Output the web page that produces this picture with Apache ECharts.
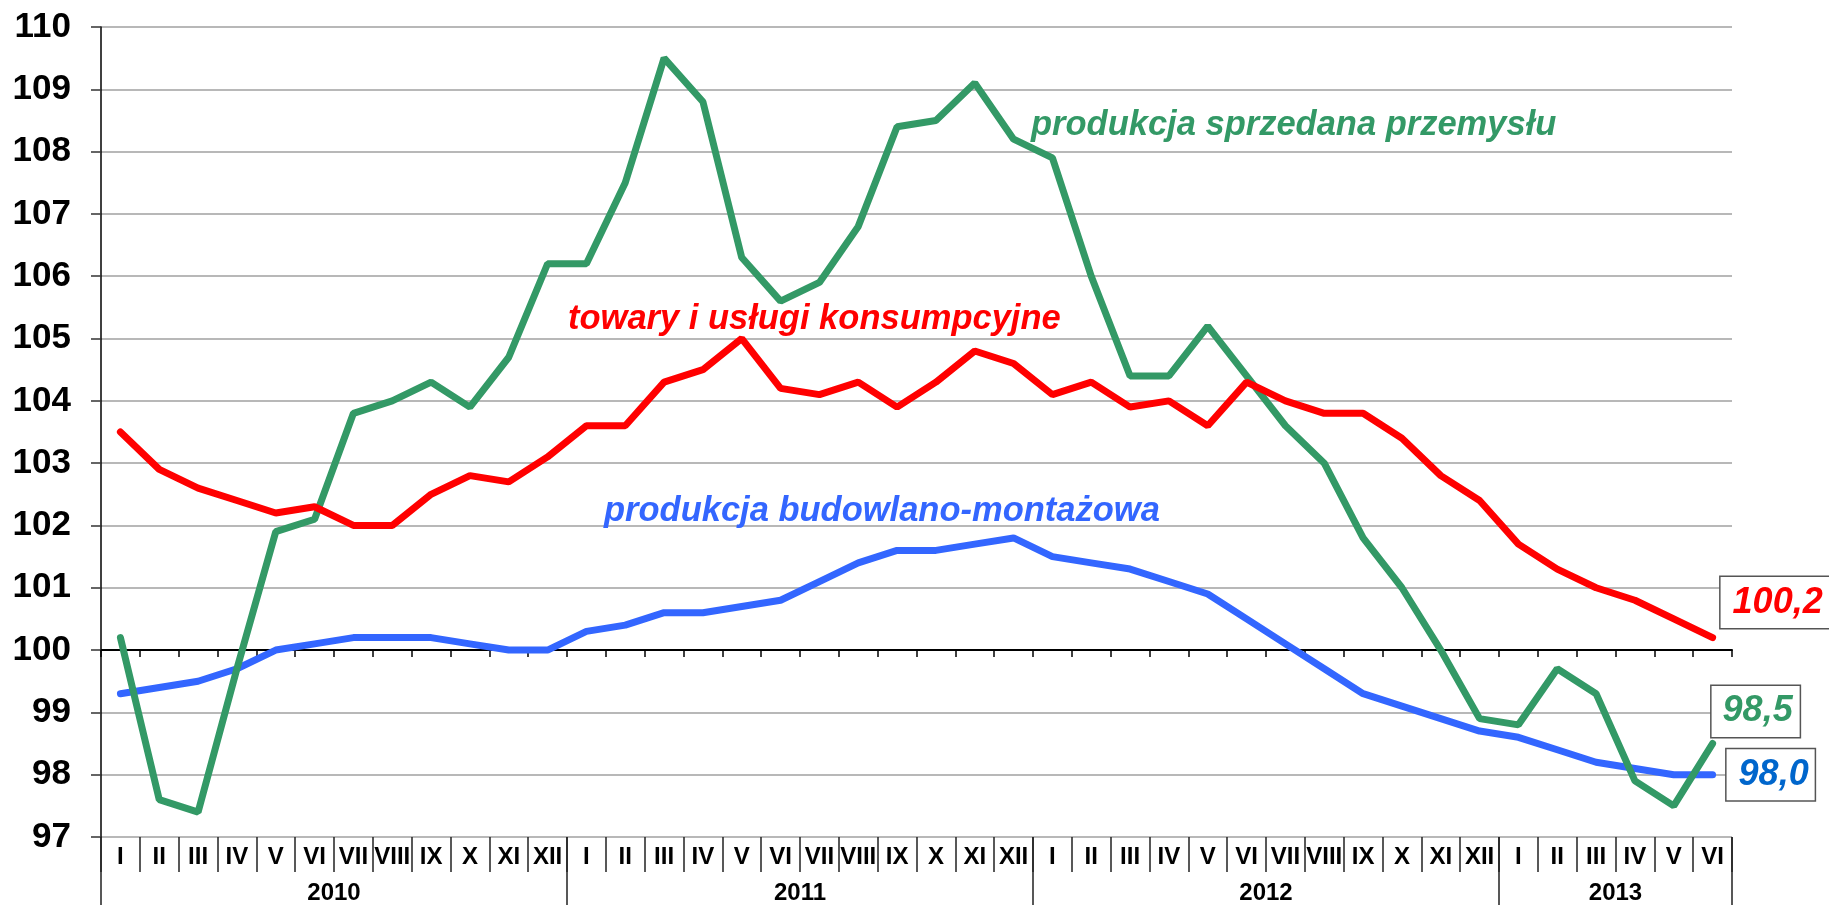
<!DOCTYPE html>
<html>
<head>
<meta charset="utf-8">
<script src="https://cdn.jsdelivr.net/npm/echarts@6/dist/echarts.min.js"></script>
<style>html,body{margin:0;padding:0;background:#fff}#c{width:1829px;height:905px}</style>
</head>
<body>
<div id="c"></div>
<script>
// ---- data ----
const monthNames = ['I','II','III','IV','V','VI','VII','VIII','IX','X','XI','XII'];
const years = ['2010','2011','2012','2013'];
const monthsPerYear = [12, 12, 12, 6];

const towaryUslugi = [
  103.5,102.9,102.6,102.4,102.2,102.3,102.0,102.0,102.5,102.8,102.7,103.1,
  103.6,103.6,104.3,104.5,105.0,104.2,104.1,104.3,103.9,104.3,104.8,104.6,
  104.1,104.3,103.9,104.0,103.6,104.3,104.0,103.8,103.8,103.4,102.8,102.4,
  101.7,101.3,101.0,100.8,100.5,100.2
];
const produkcjaPrzemyslu = [
  100.2,97.6,97.4,99.7,101.9,102.1,103.8,104.0,104.3,103.9,104.7,106.2,
  106.2,107.5,109.5,108.8,106.3,105.6,105.9,106.8,108.4,108.5,109.1,108.2,
  107.9,106.0,104.4,104.4,105.2,104.4,103.6,103.0,101.8,101.0,100.0,98.9,
  98.8,99.7,99.3,97.9,97.5,98.5
];
const produkcjaBudowlana = [
  99.3,99.4,99.5,99.7,100.0,100.1,100.2,100.2,100.2,100.1,100.0,100.0,
  100.3,100.4,100.6,100.6,100.7,100.8,101.1,101.4,101.6,101.6,101.7,101.8,
  101.5,101.4,101.3,101.1,100.9,100.5,100.1,99.7,99.3,99.1,98.9,98.7,
  98.6,98.4,98.2,98.1,98.0,98.0
];
const yMin = 97, yMax = 110, yStep = 1, baseLine = 100;
const names = {
  przemysl: 'produkcja sprzedana przemysłu',
  towary: 'towary i usługi konsumpcyjne',
  budowlana: 'produkcja budowlano-montażowa'
};

// ---- derived ----
const categories = [];
years.forEach((y, i) => monthNames.slice(0, monthsPerYear[i]).forEach(m => categories.push(m)));
const yearBounds = [0];
monthsPerYear.forEach(n => yearBounds.push(yearBounds[yearBounds.length - 1] + n));
const yearMids = years.map((y, i) => (yearBounds[i] + yearBounds[i + 1]) / 2);

const FONT = "'Liberation Sans', Arial, sans-serif";
const GREEN = '#339966', RED = '#ff0000', BLUE = '#3366ff', BLUE_LBL = '#0066cc';

const grid = {left: 101, right: 97, top: 27, bottom: 68};
const plotH = 905 - grid.top - grid.bottom;
const baseOffset = -plotH * (baseLine - yMin) / (yMax - yMin);

const fmt = v => v.toFixed(1).replace('.', ',');
function endLbl(color, offset, padding) {
  return {
    show: true, distance: 0, offset: offset,
    formatter: p => fmt(p.value),
    color: color, fontFamily: FONT, fontSize: 36, fontWeight: 'bold', fontStyle: 'italic',
    lineHeight: 37, backgroundColor: '#fff', borderColor: '#555', borderWidth: 1.5,
    padding: padding
  };
}

const chart = echarts.init(document.getElementById('c'), null, {renderer: 'canvas'});
chart.setOption({
  animation: false,
  backgroundColor: '#fff',
  grid: Object.assign({outerBoundsMode: 'none', containLabel: false}, grid),
  xAxis: [
    { // month labels at bottom
      type: 'category', data: categories, position: 'bottom', boundaryGap: true,
      axisLine: {show: false, onZero: false},
      axisTick: {show: true, interval: 0, length: 35, lineStyle: {color: '#222', width: 1.5}},
      axisLabel: {interval: 0, margin: 8, color: '#000', fontFamily: FONT, fontSize: 24, fontWeight: 'bold'},
      splitLine: {show: false}
    },
    { // base line at 100
      type: 'category', data: categories, position: 'bottom', offset: baseOffset, boundaryGap: true,
      axisLine: {show: true, onZero: false, lineStyle: {color: '#000', width: 2}},
      axisTick: {show: true, interval: 0, length: 7, lineStyle: {color: '#000', width: 1.5}},
      axisLabel: {show: false}, splitLine: {show: false}
    },
    { // year labels
      type: 'value', min: 0, max: categories.length, position: 'bottom',
      axisLine: {show: false, onZero: false},
      axisTick: {show: true, customValues: yearBounds, length: 68, lineStyle: {color: '#222', width: 1.5}},
      axisLabel: {customValues: yearMids, margin: 44, color: '#000', fontFamily: FONT, fontSize: 24, fontWeight: 'bold',
        formatter: v => { const i = yearMids.indexOf(v); return i >= 0 ? years[i] : ''; }},
      splitLine: {show: false}
    }
  ],
  yAxis: {
    type: 'value', min: yMin, max: yMax, interval: yStep,
    axisLine: {show: true, lineStyle: {color: '#000', width: 1.5}},
    axisTick: {show: true, length: 10, lineStyle: {color: '#333', width: 1.5}},
    axisLabel: {margin: 30, color: '#000', fontFamily: FONT, fontSize: 35, fontWeight: 'bold'},
    splitLine: {show: true, lineStyle: {color: '#a0a0a0', width: 1.5}}
  },
  series: [
    {name: names.budowlana, type: 'line', data: produkcjaBudowlana, showSymbol: false, symbol: 'none',
     lineStyle: {color: BLUE, width: 7, cap: 'round'}, itemStyle: {color: BLUE},
     endLabel: endLbl(BLUE_LBL, [14, 0], [7, 6, 7, 12]), z: 3},
    {name: names.przemysl, type: 'line', data: produkcjaPrzemyslu, showSymbol: false, symbol: 'none',
     lineStyle: {color: GREEN, width: 7, cap: 'round'}, itemStyle: {color: GREEN},
     endLabel: endLbl(GREEN, [-1, -32], [7, 7, 7, 11]), z: 4},
    {name: names.towary, type: 'line', data: towaryUslugi, showSymbol: false, symbol: 'none',
     lineStyle: {color: RED, width: 7, cap: 'round'}, itemStyle: {color: RED},
     endLabel: endLbl(RED, [8, -35], [7, 20, 7, 12]), z: 5}
  ],
  graphic: [
    {type: 'text', x: 1031, y: 125, z: 10, style: {text: names.przemysl, fill: GREEN,
      font: 'italic bold 34.5px ' + FONT, textAlign: 'left', textVerticalAlign: 'middle'}},
    {type: 'text', x: 568, y: 319, z: 10, style: {text: names.towary, fill: RED,
      font: 'italic bold 34.5px ' + FONT, textAlign: 'left', textVerticalAlign: 'middle'}},
    {type: 'text', x: 604, y: 511, z: 10, style: {text: names.budowlana, fill: BLUE,
      font: 'italic bold 34.5px ' + FONT, textAlign: 'left', textVerticalAlign: 'middle'}}
  ]
});
</script>
</body>
</html>
